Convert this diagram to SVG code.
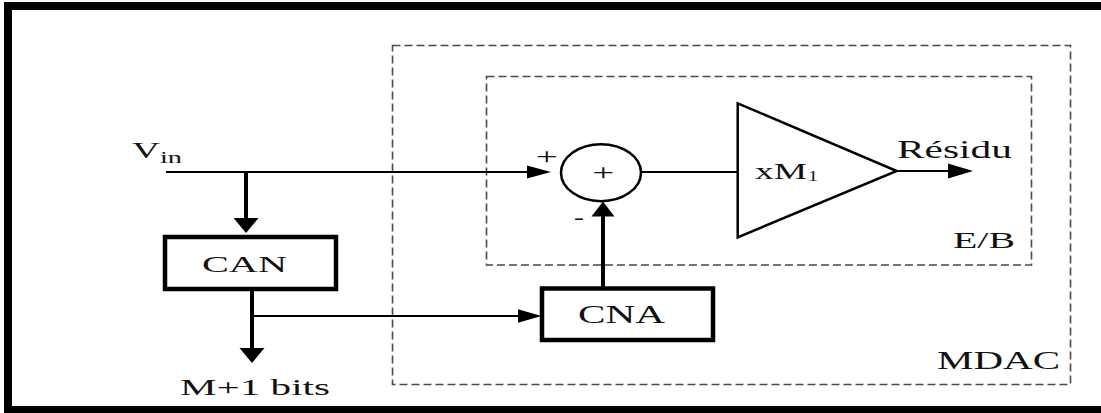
<svg xmlns="http://www.w3.org/2000/svg" width="1101" height="413" viewBox="0 0 1101 413">
<style>
.t{font-family:"Liberation Serif","Times New Roman",serif;fill:#111}
.dash{fill:none;stroke:#4a4a4a;stroke-width:1.6;stroke-dasharray:8 4}
.thin{fill:none;stroke:#000;stroke-width:2.2}
.thick{fill:none;stroke:#000;stroke-width:4}
.box{fill:#fff;stroke:#000;stroke-width:4.5}
.shape{fill:#fff;stroke:#000;stroke-width:2.5}
.ah{fill:#000}
</style>
<rect width="1101" height="413" fill="#fff"/>
<g id="frame">
<rect x="4" y="2" width="1097" height="8" fill="#000"/>
<rect x="4" y="2" width="8" height="411" fill="#000"/>
<rect x="4" y="406" width="1097" height="7" fill="#000"/>
</g>
<g id="mdac">
<rect class="dash" x="392.5" y="45.5" width="678" height="339"/>
<text class="t" x="937" y="369" font-size="26" textLength="123" lengthAdjust="spacingAndGlyphs">MDAC</text>
</g>
<g id="eb">
<rect class="dash" x="486.5" y="76.5" width="545" height="188.5"/>
<text class="t" x="953" y="248" font-size="23" textLength="62" lengthAdjust="spacingAndGlyphs">E/B</text>
</g>
<g id="connectors">
<line class="thin" x1="166" y1="172" x2="530" y2="172"/>
<polygon class="ah" points="527,165.5 551,172 527,178.5"/>
<line class="thick" x1="246" y1="172" x2="246" y2="220"/>
<polygon class="ah" points="233.5,218 258.5,218 246,233"/>
<line class="thick" x1="252" y1="289" x2="252" y2="350"/>
<polygon class="ah" points="239.5,348 264.5,348 252,363"/>
<line class="thin" x1="252" y1="316" x2="520" y2="316"/>
<polygon class="ah" points="518,309.3 541.5,316 518,322.7"/>
<line class="thick" x1="603" y1="288" x2="603" y2="214"/>
<polygon class="ah" points="591.5,216.5 614.5,216.5 603,201.5"/>
<line class="thin" x1="641" y1="172" x2="738" y2="172"/>
<line class="thin" x1="897" y1="171" x2="950" y2="171"/>
<polygon class="ah" points="948,163.5 973,171 948,178.5"/>
</g>
<g id="vin">
<text class="t" x="132" y="158" font-size="23" textLength="28" lengthAdjust="spacingAndGlyphs">V</text>
<text class="t" x="160" y="163" font-size="17" textLength="22" lengthAdjust="spacingAndGlyphs">in</text>
</g>
<g id="can">
<rect class="box" x="165" y="237" width="171" height="52"/>
<text class="t" x="202" y="272" font-size="24" textLength="85" lengthAdjust="spacingAndGlyphs">CAN</text>
</g>
<g id="bits">
<text class="t" x="180" y="395" font-size="23" textLength="150" lengthAdjust="spacingAndGlyphs">M+1 bits</text>
</g>
<g id="cna">
<rect class="box" x="542" y="288.5" width="171" height="51.5"/>
<text class="t" x="578" y="322.5" font-size="25" textLength="87" lengthAdjust="spacingAndGlyphs">CNA</text>
</g>
<g id="summer">
<ellipse class="shape" cx="601" cy="172.7" rx="40" ry="28.5"/>
<text class="t" x="603.3" y="179.5" font-size="24" text-anchor="middle" textLength="22" lengthAdjust="spacingAndGlyphs">+</text>
<text class="t" x="546.7" y="164" font-size="24" text-anchor="middle" textLength="22" lengthAdjust="spacingAndGlyphs">+</text>
<text class="t" x="579" y="224" font-size="22" text-anchor="middle" textLength="10" lengthAdjust="spacingAndGlyphs">-</text>
</g>
<g id="amp">
<polygon class="shape" points="737.7,103.3 737.7,237.3 896.7,171"/>
<text class="t" x="755" y="179" font-size="24" textLength="52" lengthAdjust="spacingAndGlyphs">xM</text>
<text class="t" x="808" y="181" font-size="15" textLength="10" lengthAdjust="spacingAndGlyphs">1</text>
</g>
<g id="residu">
<text class="t" x="897" y="158" font-size="25" textLength="115" lengthAdjust="spacingAndGlyphs">Résidu</text>
</g>
</svg>
